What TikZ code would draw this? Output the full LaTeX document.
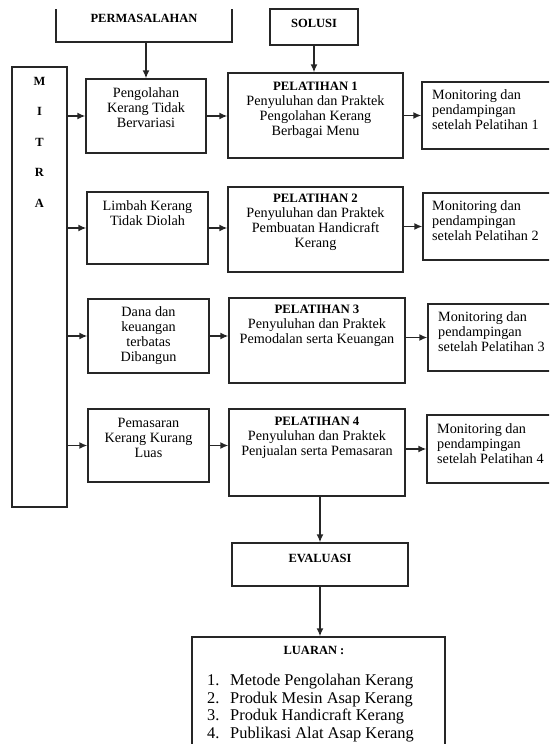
\documentclass[tikz,border=0pt]{standalone}
\usepackage{fontspec}
\setmainfont{Liberation Serif}
\usetikzlibrary{arrows.meta}
\tikzset{
	box/.style={draw=black!85, line width=1.4pt, inner sep=0pt},
	txt/.style={font=\fontsize{14.2}{15}\selectfont, align=center, inner sep=0pt},
	mon/.style={font=\fontsize{14.2}{15}\selectfont, align=left, anchor=west, inner sep=0pt},
	ttl/.style={font=\fontsize{12.5}{14}\selectfont\bfseries, inner sep=0pt},
	lst/.style={font=\fontsize{16.4}{17.4}\selectfont, align=left, anchor=west, inner sep=0pt},
	arr/.style={draw=black!85, line width=1.4pt, -{Latex[length=8pt,width=7pt]}}
}
\newcommand{\pttl}[1]{\textbf{\fontsize{12.8}{15}\selectfont #1}}

\begin{document}
\begin{tikzpicture}[x=1pt,y=-1pt]
			%%%%% START %%%%%
			\useasboundingbox (0,0) rectangle (549,744);
			\clip (0,0) rectangle (549,744);
			
			% top boxes
			\node[ttl] (permt) at (144,18) {PERMASALAHAN};
			\coordinate (permsw) at (56,42);
			\coordinate (permse) at (232,42);
			\draw[draw=black!85, line width=1.4pt] (56,9) -- (permsw) -- (permse) -- (232,9);
			
			\node[box, minimum width=88, minimum height=36] (sol) at (314,27) {};
			\node[ttl] (solt) at (314,23) {SOLUSI};
			
			% mitra
			\node[box, minimum width=55, minimum height=440] (mitra) at (39.5,287) {};
			\foreach \l [count=\i] in {M,I,T,R,A}
				\node[ttl] (mitra\i) at (39.5, 50.5+30.5*\i) {\l};
			
			% row 1
			\node[box, minimum width=120, minimum height=74] (q1) at (146,116) {};
			\node[txt] (q1t) at (146,108) {Pengolahan\\Kerang Tidak\\Bervariasi};
			\node[box, minimum width=175, minimum height=85] (p1) at (315.5,115.5) {};
			\node[txt] (p1t) at (315.5,110) {\pttl{PELATIHAN 1}\\Penyuluhan dan Praktek\\Pengolahan Kerang\\Berbagai Menu};
			\node[box, minimum width=138, minimum height=67] (m1) at (491,115.5) {};
			\node[mon] (m1t) at (432,110) {Monitoring dan\\pendampingan\\setelah Pelatihan 1};
			
			% row 2
			\node[box, minimum width=121, minimum height=72] (q2) at (147.5,228) {};
			\node[txt] (q2t) at (147.5,213.5) {Limbah Kerang\\Tidak Diolah};
			\node[box, minimum width=175, minimum height=85] (p2) at (315.5,229.5) {};
			\node[txt] (p2t) at (315.5,222.5) {\pttl{PELATIHAN 2}\\Penyuluhan dan Praktek\\Pembuatan Handicraft\\Kerang};
			\node[box, minimum width=137, minimum height=67] (m2) at (491.5,226.5) {};
			\node[mon] (m2t) at (432,221) {Monitoring dan\\pendampingan\\setelah Pelatihan 2};
			
			% row 3
			\node[box, minimum width=121, minimum height=74] (q3) at (148.5,336) {};
			\node[txt] (q3t) at (148.5,336) {Dana dan\\keuangan\\terbatas\\Dibangun};
			\node[box, minimum width=176, minimum height=85] (p3) at (317,340.5) {};
			\node[txt] (p3t) at (317,325.5) {\pttl{PELATIHAN 3}\\Penyuluhan dan Praktek\\Pemodalan serta Keuangan};
			\node[box, minimum width=132, minimum height=67] (m3) at (494,337.5) {};
			\node[mon] (m3t) at (438,332) {Monitoring dan\\pendampingan\\setelah Pelatihan 3};
			
			% row 4
			\node[box, minimum width=121, minimum height=73] (q4) at (148.5,445.5) {};
			\node[txt] (q4t) at (148.5,438) {Pemasaran\\Kerang Kurang\\Luas};
			\node[box, minimum width=176, minimum height=87] (p4) at (317,452.5) {};
			\node[txt] (p4t) at (317,438) {\pttl{PELATIHAN 4}\\Penyuluhan dan Praktek\\Penjualan serta Pemasaran};
			\node[box, minimum width=133, minimum height=68] (m4) at (493.5,449) {};
			\node[mon] (m4t) at (437,444) {Monitoring dan\\pendampingan\\setelah Pelatihan 4};
			
			% evaluasi and luaran
			\node[box, minimum width=176, minimum height=43] (eval) at (320,564.5) {};
			\node[ttl] (evalt) at (320,558) {EVALUASI};
			\node[box, minimum width=253, minimum height=123] (luaran) at (318.5,698.5) {};
			\node[ttl] (luarant) at (314,650) {LUARAN :};
			\node[lst] (luaranl) at (207,708) {\makebox[23pt][l]{1.}Metode Pengolahan Kerang\\
				\makebox[23pt][l]{2.}Produk Mesin Asap Kerang\\
				\makebox[23pt][l]{3.}Produk Handicraft Kerang\\
				\makebox[23pt][l]{4.}Publikasi Alat Asap Kerang};
			
			% arrows
			\draw[arr] (q1.north |- permse) -- (q1.north);
			\draw[arr] (sol.south) -- (sol.south |- p1.north);
			\foreach \r in {1,2,3,4} {
				\draw[arr] (mitra.east |- q\r) -- (q\r);
				\draw[arr] (q\r) -- (q\r -| p\r.west);
				\draw[arr] (p\r.east |- m\r) -- (m\r.west);
			}
			\draw[arr] (eval.north |- p4.south) -- (eval.north);
			\draw[arr] (eval) -- (eval |- luaran.north);
			%%%%% END %%%%%
\end{tikzpicture}
\end{document}
